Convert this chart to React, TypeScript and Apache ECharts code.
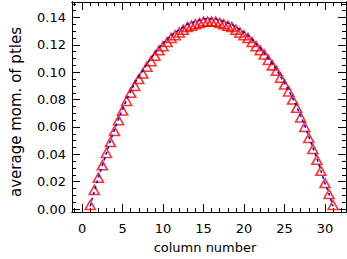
import React, { useEffect, useRef } from "react";
import * as echarts from "echarts";

const columns: number[] = [
  1, 1.5, 2, 2.5, 3, 3.5, 4, 4.5, 5, 5.5, 6, 6.5, 7, 7.5, 8, 8.5, 9, 9.5, 10, 10.5,
  11, 11.5, 12, 12.5, 13, 13.5, 14, 14.5, 15, 15.5, 16, 16.5, 17, 17.5, 18, 18.5, 19, 19.5, 20, 20.5,
  21, 21.5, 22, 22.5, 23, 23.5, 24, 24.5, 25, 25.5, 26, 26.5, 27, 27.5, 28, 28.5, 29, 29.5, 30, 30.5, 31,
];

const redValues: number[] = [
  0.003, 0.014, 0.023, 0.032, 0.041, 0.049, 0.057, 0.065, 0.072, 0.079,
  0.085, 0.09, 0.095, 0.099, 0.104, 0.108, 0.112, 0.116, 0.119, 0.122,
  0.125, 0.127, 0.129, 0.131, 0.133, 0.134, 0.135, 0.136, 0.137, 0.137,
  0.137, 0.137, 0.136, 0.135, 0.134, 0.133, 0.131, 0.129, 0.127, 0.125,
  0.122, 0.119, 0.116, 0.113, 0.109, 0.105, 0.101, 0.096, 0.091, 0.086,
  0.08, 0.074, 0.067, 0.06, 0.052, 0.044, 0.036, 0.028, 0.019, 0.011, 0.003,
];

const blueValues: number[] = [
  0.002, 0.013, 0.023, 0.032, 0.041, 0.05, 0.058, 0.066, 0.073, 0.08,
  0.086, 0.092, 0.097, 0.101, 0.106, 0.11, 0.114, 0.118, 0.121, 0.124,
  0.127, 0.129, 0.131, 0.133, 0.135, 0.136, 0.137, 0.138, 0.139, 0.139,
  0.139, 0.139, 0.138, 0.137, 0.136, 0.135, 0.133, 0.131, 0.129, 0.127,
  0.124, 0.121, 0.118, 0.114, 0.11, 0.106, 0.102, 0.097, 0.092, 0.087,
  0.081, 0.075, 0.068, 0.061, 0.053, 0.045, 0.037, 0.028, 0.019, 0.011, 0.002,
];

const xMajorTicks: number[] = [0, 5, 10, 15, 20, 25, 30];
const xMinorTicks: number[] = [
  -1, 0, 1, 2, 3, 4, 5, 6, 7, 8, 9, 10, 11, 12, 13, 14, 15, 16, 17, 18, 19, 20,
  21, 22, 23, 24, 25, 26, 27, 28, 29, 30, 31, 32,
];
const yMajorTicks: number[] = [0, 0.02, 0.04, 0.06, 0.08, 0.1, 0.12, 0.14];
const yMinorTicks: number[] = [
  0, 0.005, 0.01, 0.015, 0.02, 0.025, 0.03, 0.035, 0.04, 0.045, 0.05, 0.055, 0.06,
  0.065, 0.07, 0.075, 0.08, 0.085, 0.09, 0.095, 0.1, 0.105, 0.11, 0.115, 0.12,
  0.125, 0.13, 0.135, 0.14, 0.145, 0.15,
];

const X_MIN = -1.25;
const X_MAX = 32.6;
const Y_MIN = -0.0021;
const Y_MAX = 0.1513;

const FONT = "DejaVu Sans";

function axisBase(kind: "x" | "y", position: string, ticks: number[], len: number, labels: boolean) {
  const base: any = {
    type: "value",
    position,
    min: kind === "x" ? X_MIN : Y_MIN,
    max: kind === "x" ? X_MAX : Y_MAX,
    axisLine: { show: true, onZero: false, lineStyle: { color: "#000", width: 1 } },
    axisTick: {
      show: true,
      inside: true,
      length: len,
      customValues: ticks,
      lineStyle: { color: "#000", width: 1 },
    },
    axisLabel: labels
      ? {
          show: true,
          customValues: ticks,
          color: "#000",
          fontFamily: FONT,
          fontSize: 13,
          margin: kind === "x" ? 10 : 6,
          formatter: (v: number) => (kind === "x" ? String(Math.round(v)) : v.toFixed(2)),
        }
      : { show: false },
    splitLine: { show: false },
  };
  return base;
}

export default function App() {
  const ref = useRef<HTMLDivElement>(null);
  useEffect(() => {
    if (!ref.current) return;
    const chart = echarts.init(ref.current, undefined, { renderer: "svg" });
    const redData = columns.map((c, i) => [c, redValues[i]]);
    const blueData = columns.map((c, i) => [c, blueValues[i]]);

    const xMain = axisBase("x", "bottom", xMajorTicks, 8, true);
    xMain.name = "column number";
    xMain.nameLocation = "middle";
    xMain.nameGap = 29;
    xMain.nameTextStyle = { color: "#000", fontFamily: FONT, fontSize: 13, padding: [0, 8, 0, 0] };

    const yMain = axisBase("y", "left", yMajorTicks, 8, true);
    yMain.name = "average mom. of ptles";
    yMain.nameLocation = "middle";
    yMain.nameGap = 49;
    yMain.nameTextStyle = { color: "#000", fontFamily: FONT, fontSize: 15, padding: [0, 10, 0, 0] };

    chart.setOption({
      animation: false,
      backgroundColor: "#fff",
      grid: { left: 59, right: 1, top: 2, bottom: 40, containLabel: false },
      xAxis: [
        xMain,
        axisBase("x", "bottom", xMinorTicks, 4, false),
        axisBase("x", "top", xMajorTicks, 8, false),
        axisBase("x", "top", xMinorTicks, 4, false),
      ],
      yAxis: [
        yMain,
        axisBase("y", "left", yMinorTicks, 4, false),
        axisBase("y", "right", yMajorTicks, 8, false),
        axisBase("y", "right", yMinorTicks, 4, false),
      ],
      series: [
        {
          name: "red",
          type: "scatter",
          xAxisIndex: 0,
          yAxisIndex: 0,
          data: redData,
          symbol: "triangle",
          symbolSize: [10, 9],
          itemStyle: { color: "rgba(0,0,0,0)", borderColor: "#ff0000", borderWidth: 1.6 },
          z: 2,
        },
        {
          name: "blue",
          type: "line",
          xAxisIndex: 0,
          yAxisIndex: 0,
          data: blueData,
          showSymbol: false,
          symbol: "none",
          lineStyle: { color: "#0000ff", width: 1.5, type: [3, 3] },
          z: 3,
        },
      ],
    });
    return () => chart.dispose();
  }, []);
  return (
    <div
      ref={ref}
      style={{ position: "fixed", left: 0, top: 0, width: 347, height: 259, background: "#fff" }}
    />
  );
}
